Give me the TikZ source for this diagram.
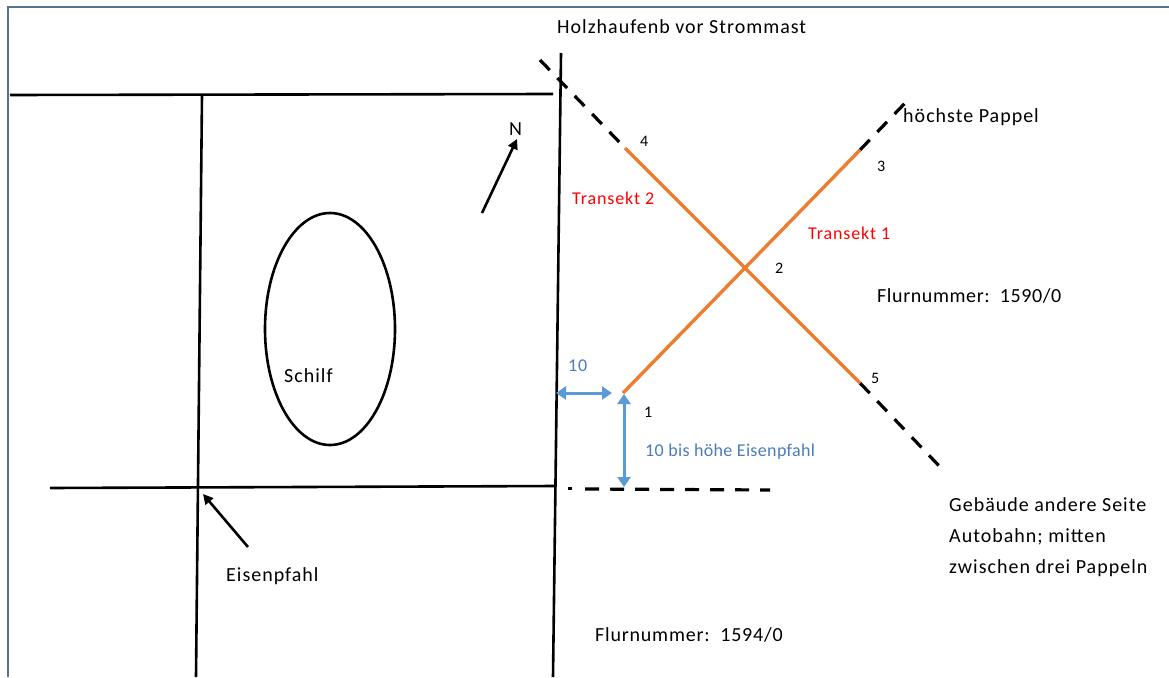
\documentclass[tikz,border=0pt]{standalone}
\usepackage{fontspec}
\setmainfont{Carlito}
\usetikzlibrary{arrows.meta,shapes.geometric}
\definecolor{framec}{HTML}{4F7590}
\definecolor{torange}{HTML}{ED7D31}
\definecolor{tblue}{HTML}{5B9BD5}
\definecolor{ltxt}{HTML}{4A7DBA}
\definecolor{rtxt}{HTML}{FF0000}
\begin{document}
\begin{tikzpicture}[x=1pt,y=-1pt,
  road/.style={line width=2.6pt, black},
  dline/.style={line width=3.2pt, black, dash pattern=on 14pt off 11pt},
  tline/.style={line width=3.4pt, torange},
  blu/.style={line width=3pt, tblue, {Triangle[length=10pt,width=13pt]}-{Triangle[length=10pt,width=13pt]}},
  pointer/.style={line width=2.6pt, black, -{Triangle[length=10pt,width=10pt]}},
  lbl/.style={font=\fontsize{20}{24}\selectfont\addfontfeatures{LetterSpace=5}, inner sep=0pt, anchor=base west},
  mid/.style={font=\fontsize{18}{22}\selectfont\addfontfeatures{LetterSpace=5}, inner sep=0pt, anchor=base west},
  small/.style={font=\fontsize{16}{20}\selectfont, inner sep=0pt, anchor=base west}]
\useasboundingbox (0,0) rectangle (1169,677);
\fill[white] (0,0) rectangle (1169,677);
% frame
\draw[framec, line width=2pt] (8,677) -- (8,7) -- (1169,7);
% plot lines
\coordinate (hTL) at (10,95);   \coordinate (hTR) at (553,94);
\coordinate (vLT) at (202,95);  \coordinate (vLB) at (196,677);
\coordinate (vRT) at (561,53);  \coordinate (vRB) at (553,677);
\coordinate (hBL) at (50,488);  \coordinate (hBR) at (556,486);
\draw[road] (hTL) -- (hTR);
\draw[road] (vLT) -- (vLB);
\draw[road] (vRT) -- (vRB);
\draw[road] (hBL) -- (hBR);
\coordinate (dotA) at (568,488); \coordinate (dotB) at (572,488);
\coordinate (dashA) at (585,489); \coordinate (dashB) at (770,490);
\draw[line width=3pt] (dotA) -- (dotB);
\draw[line width=3.2pt, dash pattern=on 14pt off 11pt] (dashA) -- (dashB);
% reed
\node[draw, line width=2.6pt, ellipse, minimum width=130pt, minimum height=232pt, inner sep=0pt] (reed) at (330,329) {};
\node[lbl] (schilf) at (284,382) {Schilf};
% north arrow
\coordinate (nA) at (482,213); \coordinate (nB) at (517,139);
\draw[pointer] (nA) -- (nB);
\node[lbl] (north) at (509,135) {N};
% Eisenpfahl arrow
\coordinate (eA) at (248,547); \coordinate (eB) at (203,494);
\draw[pointer] (eA) -- (eB);
\node[lbl] (eisen) at (226,581) {Eisenpfahl};
% transects
\coordinate (d2a) at (540,60);  \coordinate (p4) at (625,148);
\coordinate (p5) at (860,383);  \coordinate (d2b) at (943,470);
\coordinate (p1) at (623,393);  \coordinate (p3) at (860,150);
\coordinate (d1b) at (907,101);
\draw[dline] (d2a) -- (p4);
\draw[dline] (p5) -- (d2b);
\draw[dline] (p3) -- (d1b);
\draw[tline] (p4) -- (p5);
\draw[tline] (p1) -- (p3);
% blue measures
\coordinate (bhA) at (556,393); \coordinate (bhB) at (612,393);
\coordinate (bvA) at (624,394); \coordinate (bvB) at (624,487);
\draw[blu] (bhA) -- (bhB);
\draw[blu] (bvA) -- (bvB);
\node[mid, text=ltxt] (ten) at (568,371) {10};
\node[mid, text=ltxt, font=\fontsize{18}{22}\selectfont\addfontfeatures{LetterSpace=2}] (tenb) at (645,456) {10 bis höhe Eisenpfahl};
% point labels
\node[small] (n4) at (640,146) {4};
\node[small] (n3) at (877,171) {3};
\node[small] (n2) at (775,273) {2};
\node[small] (n5) at (871,383) {5};
\node[small] (n1) at (644,417) {1};
\node[mid, text=rtxt] (t2) at (572,204) {Transekt 2};
\node[mid, text=rtxt] (t1) at (808,239) {Transekt 1};
% other labels
\node[lbl] (holz) at (557,34) {Holzhaufenb vor Strommast};
\node[lbl] (pappel) at (903,122) {höchste Pappel};
\node[lbl, font=\fontsize{20}{24}\selectfont\addfontfeatures{LetterSpace=3}] (flur1) at (877,302) {Flurnummer:\ \ 1590/0};
\node[lbl, font=\fontsize{20}{24}\selectfont\addfontfeatures{LetterSpace=4}] (flur2) at (595,641) {Flurnummer:\ \ 1594/0};
\node[lbl] (geb1) at (949,511) {Gebäude andere Seite};
\node[lbl] (geb2) at (949,542) {Autobahn; mitten};
\node[lbl] (geb3) at (949,573) {zwischen drei Pappeln};
\end{tikzpicture}
\end{document}
